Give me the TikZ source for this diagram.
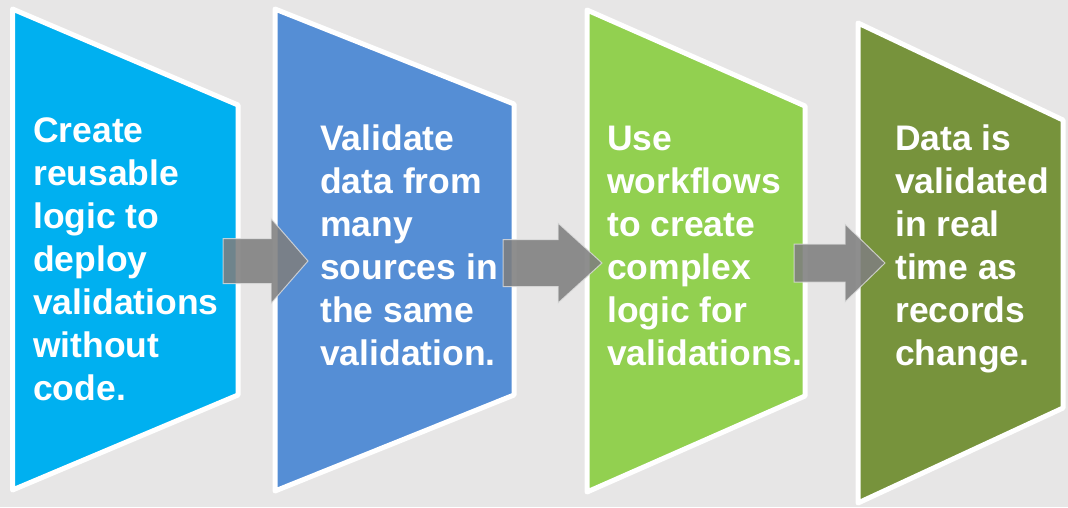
\documentclass[tikz,border=0pt]{standalone}
\usepackage{fontspec}
\setmainfont{Liberation Sans}
\usetikzlibrary{calc}
\definecolor{bgGray}{HTML}{E7E6E6}
\definecolor{stageCyan}{HTML}{00B0F0}
\definecolor{stageBlue}{HTML}{558ED5}
\definecolor{stageGreen}{HTML}{92D050}
\definecolor{stageOlive}{HTML}{77933C}
\definecolor{arrowGray}{HTML}{7F7F7F}
\begin{document}
\begin{tikzpicture}[x=1pt, y=-1pt,
    stage/.style={draw=white, line width=5pt, line join=round},
    stagetext/.style={anchor=base west, align=left, inner sep=0pt, text=white,
      font=\fontsize{35.5}{43}\selectfont\bfseries},
    blockarr/.style={fill=arrowGray, fill opacity=0.88, draw=white!75!gray,
      draw opacity=0.8, line width=1pt}]
  \useasboundingbox (0,0) rectangle (1068,507);
  \fill[bgGray] (0,0) rectangle (1068,507);
  % the four stages
  \draw[stage, fill=stageCyan] (12.5,9) -- (238,105) -- (238,395) -- (12.5,490) -- cycle;
  \draw[stage, fill=stageBlue] (275,9) -- (514,104) -- (514,395) -- (275,491) -- cycle;
  \draw[stage, fill=stageGreen] (587,10) -- (805,106) -- (805,396) -- (587,492) -- cycle;
  \draw[stage, fill=stageOlive] (858,23) -- (1063,120) -- (1063,408) -- (858,503) -- cycle;
  % anchors sit on the last baseline of each text
  \node[stagetext] (txtA) at (33,400) {Create\\reusable\\logic to\\deploy\\validations\\without\\code.};
  \node[stagetext] (txtB) at (320,365) {Validate\\data from\\many\\sources in\\the same\\validation.};
  \node[stagetext] (txtC) at (607,365) {Use\\workflows\\to create\\complex\\logic for\\validations.};
  \node[stagetext] (txtD) at (895,365) {Data is\\validated\\in real\\time as\\records\\change.};
  % block arrows between stages
  \foreach \i/\tx/\hx/\yy/\sh/\hh/\hl in {1/223/308/261/22.5/42.5/37, 2/503/602/263/23.5/40/44, 3/794/885/263/19/39/40} {
    \coordinate (tail\i) at (\tx,\yy);
    \coordinate (tip\i) at (\hx,\yy);
    \draw[blockarr] ($(tail\i)+(0,-\sh)$) -- ($(tip\i)+(-\hl,-\sh)$) -- ($(tip\i)+(-\hl,-\hh)$)
      -- (tip\i) -- ($(tip\i)+(-\hl,\hh)$) -- ($(tip\i)+(-\hl,\sh)$) -- ($(tail\i)+(0,\sh)$) -- cycle;
  }
\end{tikzpicture}
\end{document}
